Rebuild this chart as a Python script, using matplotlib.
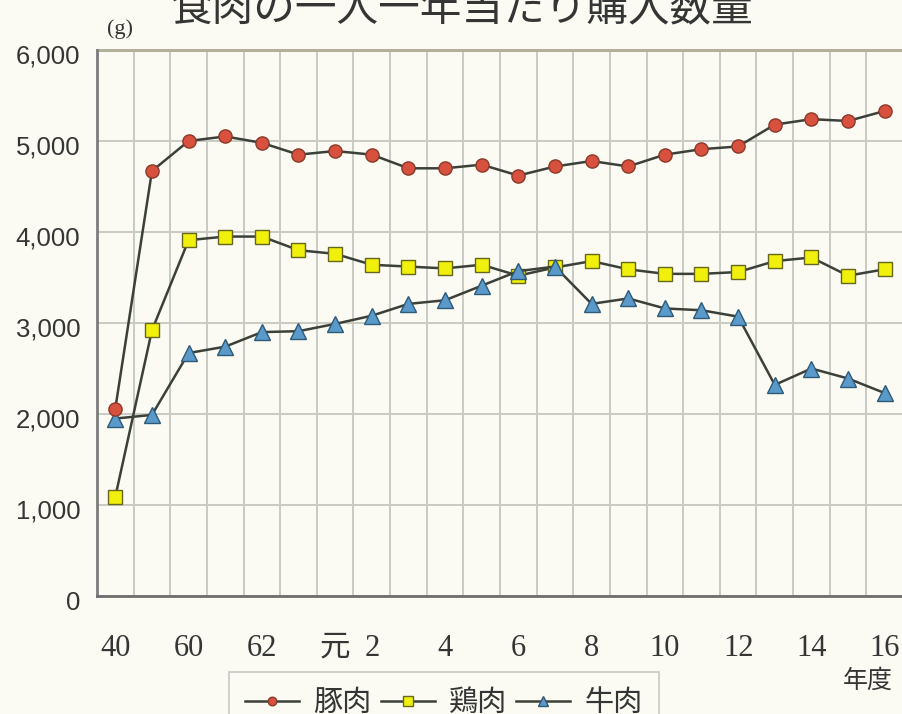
import matplotlib
matplotlib.use("Agg")
import matplotlib.pyplot as plt
import numpy as np
from matplotlib.transforms import ScaledTranslation

# Fiscal years (昭和40, 50, 60-63, 平成元-16)
years = ["40", "50", "60", "61", "62", "63", "元", "2", "3", "4", "5", "6",
         "7", "8", "9", "10", "11", "12", "13", "14", "15", "16"]
shown_years = {"40", "60", "62", "元", "2", "4", "6", "8", "10", "12", "14", "16"}

# Purchases per person per year (g)
pork = [2060, 4670, 5000, 5050, 4980, 4850, 4890, 4850, 4700, 4700, 4740,
        4620, 4720, 4780, 4720, 4850, 4910, 4940, 5180, 5240, 5220, 5330]
chicken = [1090, 2920, 3910, 3950, 3950, 3800, 3760, 3640, 3620, 3600, 3640,
           3520, 3610, 3680, 3590, 3540, 3540, 3560, 3680, 3720, 3520, 3590]
beef = [1950, 1990, 2670, 2740, 2900, 2910, 2990, 3080, 3210, 3250, 3410,
        3570, 3620, 3210, 3270, 3160, 3140, 3070, 2320, 2500, 2390, 2230]

series_names = ["豚肉", "鶏肉", "牛肉"]
title = "食肉の一人一年当たり購入数量"

CJK = ["Noto Sans CJK JP", "DejaVu Sans"]
SERIF = ["Liberation Serif", "Noto Sans CJK JP"]
SANS = ["Liberation Sans", "DejaVu Sans"]
plt.rcParams["font.family"] = CJK

bg = "#fbfbf4"
text_c = "#353535"
line_c = "#3b4038"

W, H = 903, 714
fig = plt.figure(figsize=(W / 100, H / 100), dpi=100, facecolor=bg)
ax = fig.add_axes([97 / W, 118 / H, 806 / W, 546 / H])
ax.set_facecolor(bg)

x = np.arange(len(years))
ax.set_xlim(-0.5, len(years) - 0.5)
ax.set_ylim(0, 6000)

# grid: horizontal every 1,000 g, vertical between the years
ax.set_yticks(np.arange(0, 6001, 1000))
ax.set_yticklabels([f"{v:,}" for v in range(0, 6001, 1000)],
                   fontfamily=SANS, fontsize=18.5, color=text_c)
ax.set_xticks(x)
ax.set_xticklabels([y if y in shown_years else "" for y in years],
                   fontfamily=SERIF, fontsize=22, color=text_c)
ax.set_xticks(np.arange(-0.5, len(years), 1), minor=True)
ax.yaxis.grid(True, color="#cacac4", lw=1.4, zorder=0)
ax.xaxis.grid(True, which="minor", color="#cacac4", lw=1.4, zorder=0)
ax.xaxis.grid(False, which="major")
ax.axhline(6000, color="#b3b19c", lw=2.2, clip_on=False, zorder=1)
ax.set_axisbelow(True)
ax.tick_params(axis="both", which="both", length=0)
ax.tick_params(axis="x", pad=27)
ax.tick_params(axis="y", pad=12)
for lab in ax.get_yticklabels():
    lab.set_transform(lab.get_transform() + ScaledTranslation(0, -4 / 100, fig.dpi_scale_trans))

for side in ("top", "right"):
    ax.spines[side].set_visible(False)
ax.spines["left"].set_color("#7c7c7c")
ax.spines["left"].set_linewidth(2)
ax.spines["bottom"].set_color("#6e6e6e")
ax.spines["bottom"].set_linewidth(2)

ax.plot(x, chicken, color=line_c, lw=1.8, marker="s", ms=10, mfc="#f0f00c",
        mec="#66661e", mew=1.0, label=series_names[1], zorder=3)
ax.plot(x, beef, color=line_c, lw=1.8, marker="^", ms=12, mfc="#5a9acb",
        mec="#2e5a78", mew=1.0, label=series_names[2], zorder=4)
ax.plot(x, pork, color=line_c, lw=1.8, marker="o", ms=9.5, mfc="#d8503e",
        mec="#8a3a2a", mew=1.0, label=series_names[0], zorder=5)

handles, labels = ax.get_legend_handles_labels()
order = [labels.index(n) for n in series_names]
leg = fig.legend([handles[i] for i in order], [labels[i] for i in order],
                 loc="upper left", bbox_to_anchor=(229 / W, 1 - 672 / H),
                 borderaxespad=0, ncol=3, frameon=True, fancybox=False,
                 edgecolor="#c8c8c8", facecolor=bg, framealpha=1,
                 handlelength=1.85, handletextpad=0.5, columnspacing=0.3,
                 borderpad=0.55, markerscale=0.65,
                 prop={"family": CJK, "size": 21})
leg.get_frame().set_linewidth(1.2)
for t in leg.get_texts():
    t.set_color(text_c)

fig.text(120 / W, 1 - 29 / H, "(g)", fontfamily=SERIF, fontsize=16,
         color=text_c, ha="center", va="center")
fig.text(868 / W, 1 - 681 / H, "年度", fontfamily=CJK, fontsize=18,
         color=text_c, ha="center", va="center")
fig.text(462 / W, 1 - 20 / H, title, fontfamily=CJK, fontsize=30,
         color=text_c, ha="center", va="baseline")

fig.savefig("out.png", dpi=100, facecolor=bg)
